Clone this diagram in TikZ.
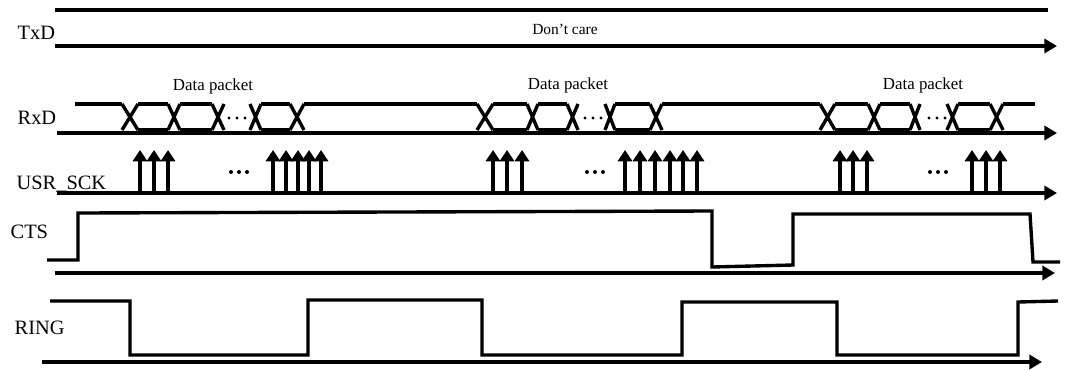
\documentclass[tikz,border=0pt]{standalone}
\usepackage{fontspec}
\setmainfont{Liberation Serif}
\usetikzlibrary{arrows.meta}
\begin{document}
\begin{tikzpicture}[x=0.025cm,y=-0.025cm,line width=2.4pt,
    axis/.style={-{Triangle[length=9pt,width=10pt]}},
    clk/.style={line width=2.8pt,-{Triangle[length=8pt,width=10pt]}},
    sig/.style={line join=miter},
    lbl/.style={anchor=west,font=\fontsize{14.5}{16}\selectfont,inner sep=0pt},
    pkt/.style={font=\fontsize{12}{14}\selectfont,inner sep=0pt}]
\useasboundingbox (0,0) rectangle (1075,369);
% labels
\node[lbl] (txd) at (16,33) {TxD};
\node[lbl] (rxd) at (16,118) {RxD};
\node[lbl] (sck) at (15,184) {USR\_SCK};
\node[lbl] (cts) at (9,232) {CTS};
\node[lbl] (ring) at (13,328) {RING};
\node[pkt,font=\fontsize{11}{13}\selectfont] (dontcare) at (565,29) {Don’t care};
\node[pkt] (pkta) at (213,86) {Data packet};
\node[pkt] (pktb) at (568,85) {Data packet};
\node[pkt] (pktc) at (923,85) {Data packet};
% time axes
\draw (55,10) -- (1048,10);
\draw[axis] (55,46) -- (1057,46);
\draw[axis] (57,133) -- (1057,133);
\draw[axis] (57,193) -- (1057,193);
\draw[axis] (55,273) -- (1055,273);
\draw[axis] (42,362) -- (1042,362);
% RxD
\draw (75,104) -- (122,104);
\draw (304,104) -- (477,104);
\draw (662,104) -- (820,104);
\draw (1003,104) -- (1035,104);
\foreach \a/\b in {122/138,168/180,212/224,250/261,290/304,
                   477/493,527/538,567/578,605/615,650/662,
                   820/835,868/880,910/920,947/958,990/1003}
    \draw (\a,104) -- (\b,130) (\a,130) -- (\b,104);
\foreach \a/\b in {138/168,180/212,261/290,493/527,538/567,615/650,
                   835/868,880/910,958/990}
    \draw (\a,104) -- (\b,104) (\a,130) -- (\b,130);
\foreach \x in {237,593,937}
    \foreach \d in {-8,0,8}
        \fill (\x+\d,118) circle[radius=1.6];
% USR_SCK
\foreach \x in {140,154,168,273,286,298,309,321,
                493,507,522,625,640,655,670,683,697,
                840,853,867,972,986,1000}
    \draw[clk] (\x,193) -- (\x,150);
\foreach \x in {239,595,938}
    \foreach \d in {-8,0,8}
        \fill (\x+\d,172) circle[radius=2];
% CTS
\draw[sig] (47,260) -- (78,260) -- (78,213) -- (712,211) -- (712,267)
    -- (793,265) -- (793,214) -- (1030,214) -- (1033,262) -- (1060,262);
% RING
\draw[sig] (50,301) -- (130,301) -- (130,355) -- (308,355) -- (308,300)
    -- (482,300) -- (482,355) -- (682,355) -- (682,302) -- (837,302)
    -- (837,355) -- (1018,355) -- (1018,302) -- (1058,301);
\end{tikzpicture}
\end{document}
